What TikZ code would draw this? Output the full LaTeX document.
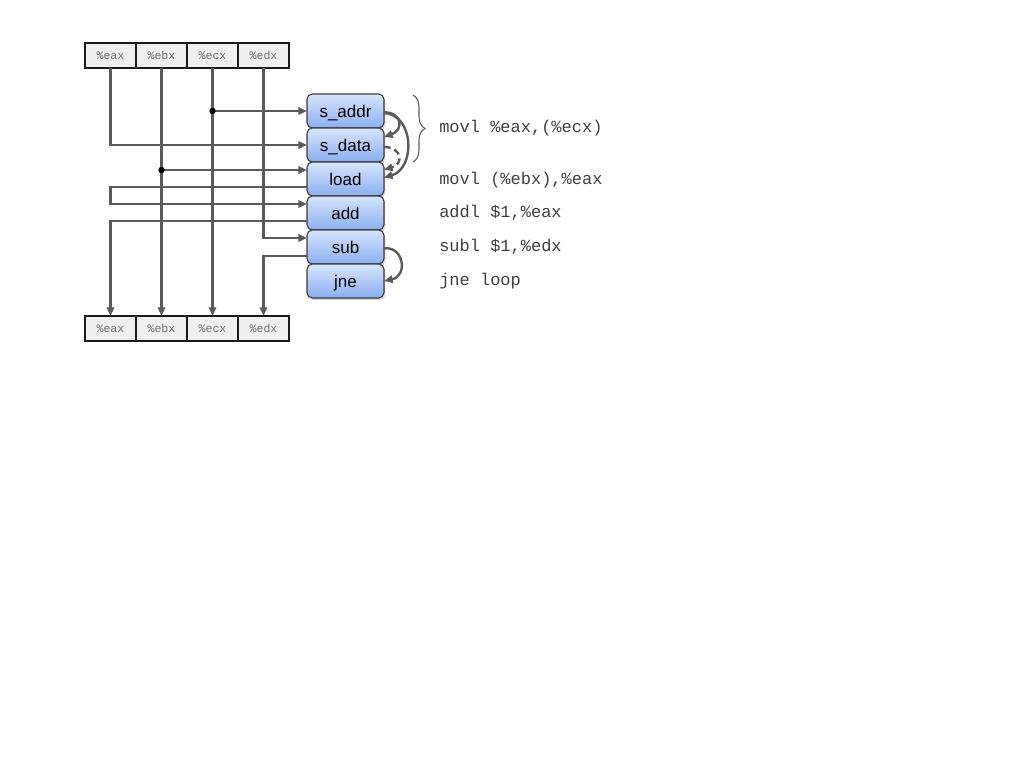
\documentclass[tikz,border=0pt]{standalone}
\usepackage{fontspec}
\newfontfamily\monof{Liberation Mono}
\newfontfamily\sansf{Liberation Sans}
\usetikzlibrary{arrows.meta,shadows,decorations.pathreplacing}
\definecolor{wire}{HTML}{5A5A5A}
\definecolor{regfill}{HTML}{EFEFEF}
\definecolor{regtext}{HTML}{707070}
\definecolor{optop}{HTML}{D8E5FC}
\definecolor{opbot}{HTML}{8BAEF0}
\definecolor{opline}{HTML}{3C3C3C}
\definecolor{codetext}{HTML}{404040}
\tikzset{
  reg/.style={draw=black!90, fill=regfill, line width=1.1pt, minimum width=38.25pt, minimum height=18.75pt, inner sep=0pt, outer sep=0pt, font=\monof\fontsize{8.7}{10}\selectfont, text=regtext},
  opbox/.style={draw=opline, line width=0.8pt, rounded corners=4pt, top color=optop, bottom color=opbot, minimum width=57.75pt, minimum height=25.5pt, inner sep=0pt, outer sep=0pt, text depth=0pt, font=\sansf\fontsize{12.75}{14}\selectfont, drop shadow={shadow xshift=1pt, shadow yshift=-1.5pt, opacity=0.35}},
  wirel/.style={draw=wire, line width=1.8pt},
  arr/.style={wirel, -{Triangle[length=6.5pt,width=5.5pt]}},
  dotp/.style={fill=black},
  code/.style={anchor=west, inner sep=0pt, font=\monof\fontsize{12.75}{14}\selectfont, text=codetext},
}
\begin{document}
\begin{tikzpicture}[x=0.75pt,y=-0.75pt]
\useasboundingbox (0,0) rectangle (1024,768);
% registers
\node[reg] (t1) at (110.5,55.5) {\%eax};
\node[reg] (t2) at (161.5,55.5) {\%ebx};
\node[reg] (t3) at (212.5,55.5) {\%ecx};
\node[reg] (t4) at (263.5,55.5) {\%edx};
\node[reg] (b1) at (110.5,328.5) {\%eax};
\node[reg] (b2) at (161.5,328.5) {\%ebx};
\node[reg] (b3) at (212.5,328.5) {\%ecx};
\node[reg] (b4) at (263.5,328.5) {\%edx};
% ops
\node[opbox] (sa) at (345.5,111) {s\_addr};
\node[opbox] (sd) at (345.5,145) {s\_data};
\node[opbox] (ld) at (345.5,179) {load};
\node[opbox] (ad) at (345.5,213) {add};
\node[opbox] (sb) at (345.5,247) {sub};
\node[opbox] (jn) at (345.5,281) {jne};
\coordinate (ldin) at ([yshift=6.75pt]ld.west);
\coordinate (ldout) at ([yshift=-6pt]ld.west);
\coordinate (adin) at ([yshift=6.75pt]ad.west);
\coordinate (adout) at ([yshift=-6pt]ad.west);
\coordinate (sbin) at ([yshift=6.75pt]sb.west);
\coordinate (sbout) at ([yshift=-6.75pt]sb.west);
% wires
\draw[arr] (t3.south) -- (b3.north);
\draw[arr] (t3.south |- sa.west) -- (sa.west);
\fill[dotp] (t3.south |- sa.west) circle (2.4pt);
\draw[arr] (t1.south) |- (sd.west);
\draw[arr] (t2.south) -- (b2.north);
\draw[arr] (t2.south |- ldin) -- (ldin);
\fill[dotp] (t2.south |- ldin) circle (2.4pt);
\draw[arr] (ldout) -- (ldout -| t1.south) -- (adin -| t1.south) -- (adin);
\draw[arr] (adout) -| (b1.north);
\draw[arr] (t4.south) |- (sbin);
\draw[arr] (sbout) -| (b4.north);
% dependencies
\draw[arr] ([yshift=-1pt]sa.east) .. controls (402,112) and (404,130) .. ([yshift=6pt]sd.east);
\draw[arr] ([yshift=-1.5pt]sa.east) .. controls (414,114) and (416,168) .. ([yshift=1pt]ld.east);
\draw[arr, dashed, dash pattern=on 5pt off 3pt] ([yshift=-1.5pt]sd.east) .. controls (402,147) and (404,164) .. ([yshift=7pt]ld.east);
\draw[arr] ([yshift=-1pt]sb.east) .. controls (404,246) and (408,276) .. (jn.east);
% brace
\coordinate (brtop) at (413,95);
\coordinate (brbot) at (413,162);
\draw[draw=wire, line width=0.8pt, decorate, decoration={brace, amplitude=9pt}] (brtop) -- (brbot);
% code
\node[code] (c1) at (439,128) {movl \%eax,(\%ecx)};
\node[code] (c2) at (439,180) {movl (\%ebx),\%eax};
\node[code] (c3) at (439,213) {addl \$1,\%eax};
\node[code] (c4) at (439,247) {subl \$1,\%edx};
\node[code] (c5) at (439,281) {jne loop};
\end{tikzpicture}
\end{document}
